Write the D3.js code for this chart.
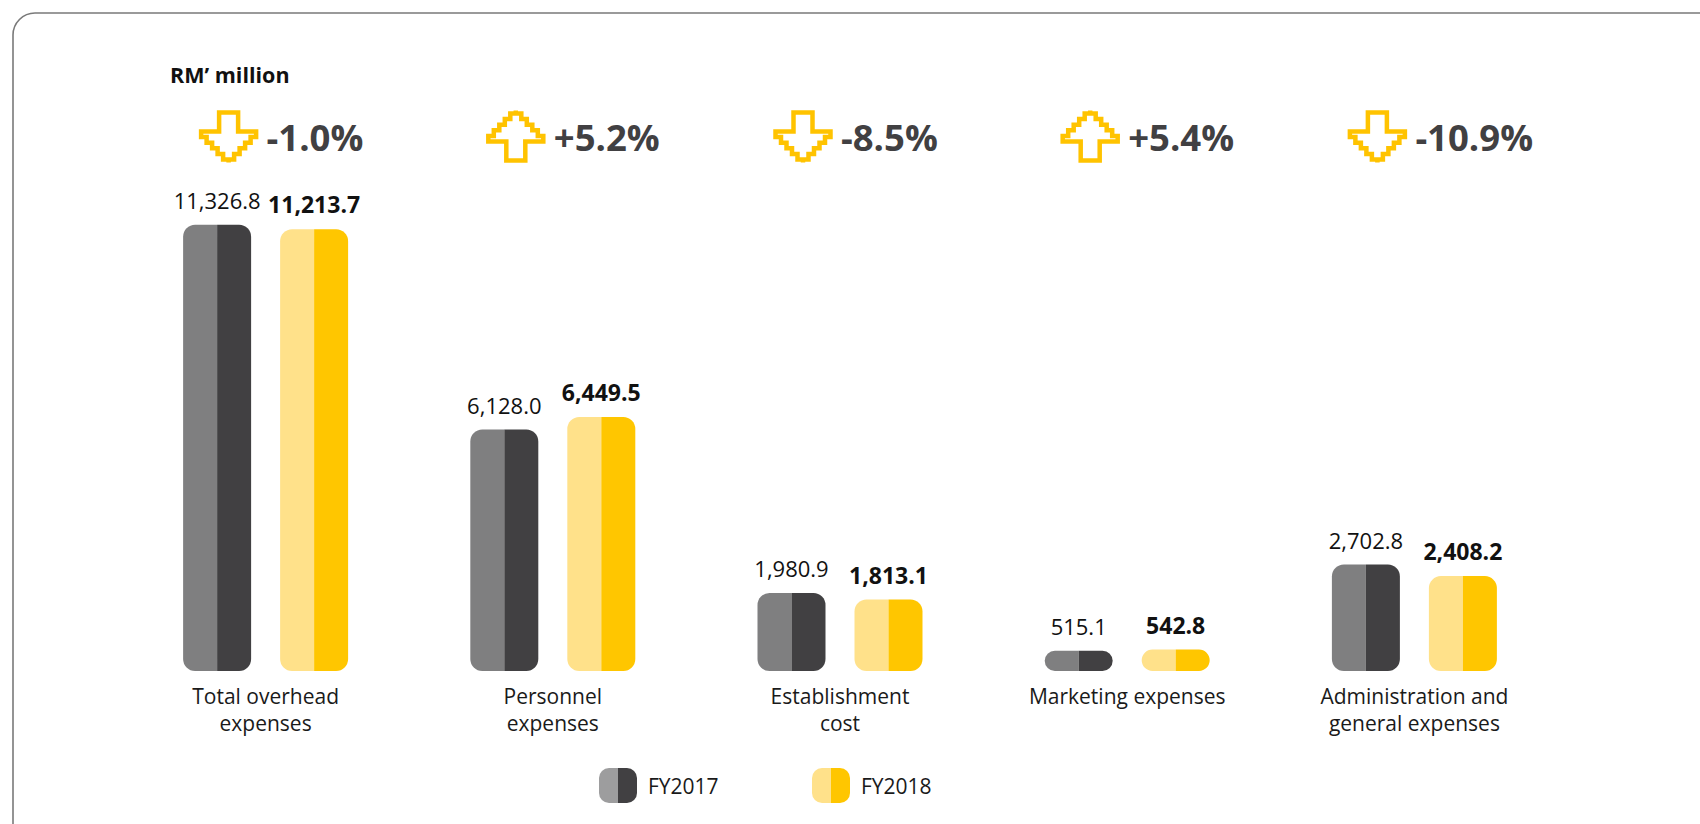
<!DOCTYPE html>
<html>
<head>
<meta charset="utf-8">
<script src="https://cdn.jsdelivr.net/npm/d3@7"></script>
<style>
  body { margin: 0; background: #fff; }
  svg { display: block; font-family: "Open Sans", "Noto Sans", sans-serif; font-variant-numeric: tabular-nums; }
</style>
</head>
<body>
<div id="app"></div>
<script>
// data
var categories = ["Total overhead|expenses", "Personnel|expenses", "Establishment|cost", "Marketing expenses", "Administration and|general expenses"];
var years = ["FY2017", "FY2018"];
var fy2017 = [11326.8, 6128.0, 1980.9, 515.1, 2702.8];
var fy2018 = [11213.7, 6449.5, 1813.1, 542.8, 2408.2];
var changes = [-1.0, 5.2, -8.5, 5.4, -10.9];
var unitLabel = "RM\u2019 million";

var width = 1700, height = 824;
var colors = {
  FY2017: ["#7f7f80", "#414042"],
  FY2018: ["#ffe18a", "#ffc600"]
};
var legendColors = {
  FY2017: ["#9d9d9e", "#414042"],
  FY2018: ["#ffe18a", "#ffc600"]
};

var rows = categories.map(function(c, i) {
  return {cat: c, FY2017: fy2017[i], FY2018: fy2018[i], change: changes[i]};
});

var svg = d3.select("#app").append("svg").attr("width", width).attr("height", height);

// frame, open to the right and bottom
svg.append("path")
  .attr("d", "M13,830 V35 A22,22 0 0 1 35,13 H1710")
  .attr("fill", "none").attr("stroke", "#7a7a7a").attr("stroke-width", 1.6);

var x0 = d3.scaleBand().domain(categories).range([122, 1558]).paddingInner(0.4255).paddingOuter(0.2128);
var x1 = d3.scaleBand().domain(years).range([0, x0.bandwidth()]).paddingInner(0.299);
var y = d3.scaleLinear().domain([0, 12000]).range([671, 198.2]);
var fmt = d3.format(",.1f");

svg.append("text").attr("x", 170).attr("y", 83)
  .attr("font-size", 21.5).attr("font-weight", 700).attr("fill", "#111")
  .text(unitLabel);

function halfPath(x, yy, w, h, r, side) {
  // side "L": rounded left corners; "R": rounded right corners
  if (side === "L") {
    return "M" + (x + w) + "," + yy + " H" + (x + r) + " A" + r + "," + r + " 0 0 0 " + x + "," + (yy + r) +
      " V" + (yy + h - r) + " A" + r + "," + r + " 0 0 0 " + (x + r) + "," + (yy + h) + " H" + (x + w) + " Z";
  }
  return "M" + x + "," + yy + " H" + (x + w - r) + " A" + r + "," + r + " 0 0 1 " + (x + w) + "," + (yy + r) +
    " V" + (yy + h - r) + " A" + r + "," + r + " 0 0 1 " + (x + w - r) + "," + (yy + h) + " H" + x + " Z";
}

function pill(g, x, yy, w, h, r, cols) {
  g.append("path").attr("d", halfPath(x, yy, w / 2, h, r, "L")).attr("fill", cols[0]);
  g.append("path").attr("d", halfPath(x + w / 2, yy, w / 2, h, r, "R")).attr("fill", cols[1]);
}

// pixel-stepped outline arrow, 60 x 53, pointing down
function arrowPoints(down) {
  var pts = [[20.5, 2.5], [39.5, 2.5], [39.5, 21.5], [57.5, 21.5]];
  var sx = 57.5, sy = 21.5;
  for (var k = 0; k < 5; k++) {
    sy += 5.6; pts.push([sx, sy]);
    sx -= 5.5; pts.push([sx, sy]);
  }
  pts.push([30, sy + 3]);
  var mirror = pts.slice(3).reverse().map(function(p) { return [60 - p[0], p[1]]; });
  pts = pts.concat(mirror.slice(1)).concat([[20.5, 21.5]]);
  if (!down) pts = pts.map(function(p) { return [p[0], 53 - p[1]]; });
  return pts;
}

var groups = svg.selectAll("g.grp").data(rows).enter().append("g")
  .attr("class", "grp")
  .attr("transform", function(d) { return "translate(" + x0(d.cat) + ",0)"; });

groups.each(function(d) {
  var g = d3.select(this);
  years.forEach(function(yr) {
    var v = d[yr];
    var bx = x1(yr), bw = x1.bandwidth();
    var by = y(v), bh = y(0) - y(v);
    var r = Math.min(12, bh / 2);
    pill(g, bx, by, bw, bh, r, colors[yr]);
    g.append("text")
      .attr("x", bx + bw / 2).attr("y", by - 16)
      .attr("text-anchor", "middle")
      .attr("font-size", yr === "FY2018" ? 23 : 22)
      .attr("font-weight", yr === "FY2018" ? 700 : 400)
      .attr("fill", "#111")
      .text(fmt(v));
  });

  // category label
  var lines = d.cat.split("|");
  var t = g.append("text")
    .attr("x", x0.bandwidth() / 2).attr("y", 704)
    .attr("text-anchor", "middle").attr("font-size", 21).attr("fill", "#1a1a1a");
  lines.forEach(function(l, i) {
    t.append("tspan").attr("x", x0.bandwidth() / 2).attr("dy", i === 0 ? 0 : 26.5).text(l);
  });

  // change arrow + percent
  var cx = x0.bandwidth() / 2;
  var ax = cx - 67, ay = 110;
  g.append("path")
    .attr("transform", "translate(" + ax + "," + ay + ")")
    .attr("d", d3.line()(arrowPoints(d.change < 0)) + "Z")
    .attr("fill", "none").attr("stroke", "#ffc300").attr("stroke-width", 4.5)
    .attr("stroke-linejoin", "miter");
  g.append("text")
    .attr("x", ax + 68).attr("y", 151)
    .attr("font-size", 36.5).attr("font-weight", 700).attr("fill", "#414042")
    .text((d.change > 0 ? "+" : "") + d.change.toFixed(1) + "%");
});

// legend
var legendX = [599, 812];
years.forEach(function(yr, i) {
  var lg = svg.append("g");
  pill(lg, legendX[i], 768, 38, 35, 10, legendColors[yr]);
  lg.append("text").attr("x", legendX[i] + 49).attr("y", 794)
    .attr("font-size", 21).attr("fill", "#1a1a1a").text(yr);
});
</script>
</body>
</html>
